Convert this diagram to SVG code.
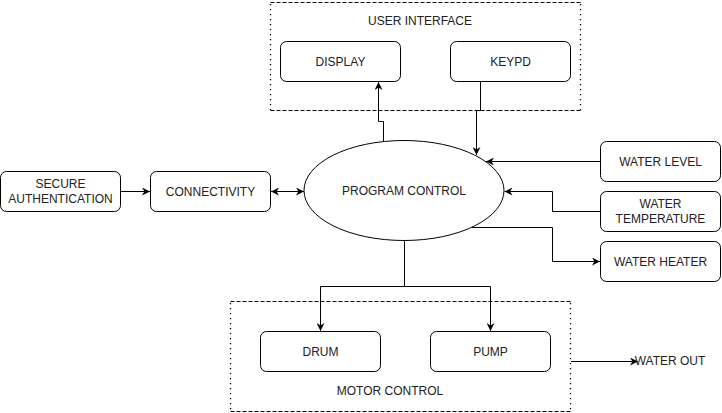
<svg xmlns="http://www.w3.org/2000/svg" width="722" height="413" viewBox="0 0 722 413">
<style>
.node{fill:#fff;stroke:#000;stroke-width:1}
.gh{fill:none;stroke:#000;stroke-width:1;stroke-dasharray:4 2}
.gv{fill:none;stroke:#000;stroke-width:1.3;stroke-dasharray:1.3 3.7}
.t{font-family:"Liberation Sans",Arial,sans-serif;font-size:12px;fill:#222;text-anchor:middle;dominant-baseline:central}
.c{fill:none;stroke:#000;stroke-width:1}
</style>
<defs>
<marker id="a" viewBox="0 0 10 10" refX="10" refY="5" markerWidth="8" markerHeight="8" markerUnits="userSpaceOnUse" orient="auto-start-reverse">
<path d="M0,0 L10,5 L0,10 L3,5 Z" fill="#000"/>
</marker>
</defs>
<rect width="722" height="413" fill="#fff"/>
<g id="user-interface">
<path class="gh" d="M270.5,2.5 H580.5 M270.5,110.5 H580.5"/>
<path class="gv" d="M270.5,4 V110 M580.5,4 V110"/>
<text class="t" x="420" y="21">USER INTERFACE</text>
</g>
<g id="motor-control">
<path class="gh" d="M230.5,301.5 H570.5 M230.5,411.5 H570.5"/>
<path class="gv" d="M230.5,303 V411 M570.5,303 V411"/>
<text class="t" x="390" y="391">MOTOR CONTROL</text>
</g>
<g id="display">
<rect class="node" x="280.5" y="41.5" width="120" height="40" rx="6"/>
<text class="t" x="340.5" y="61.5">DISPLAY</text>
</g>
<g id="keypd">
<rect class="node" x="450.5" y="41.5" width="120" height="40" rx="6"/>
<text class="t" x="510.5" y="61.5">KEYPD</text>
</g>
<g id="secure-authentication">
<rect class="node" x="0.5" y="171.5" width="120" height="40" rx="6"/>
<text class="t" x="60.5" y="183.5">SECURE</text>
<text class="t" x="60.5" y="198.5">AUTHENTICATION</text>
</g>
<g id="connectivity">
<rect class="node" x="150.5" y="171.5" width="120" height="40" rx="6"/>
<text class="t" x="210.5" y="191.5">CONNECTIVITY</text>
</g>
<g id="program-control">
<ellipse class="node" cx="404" cy="190.5" rx="100" ry="50"/>
<text class="t" x="404" y="191">PROGRAM CONTROL</text>
</g>
<g id="water-level">
<rect class="node" x="600.5" y="141.5" width="120" height="40" rx="6"/>
<text class="t" x="660.5" y="161.5">WATER LEVEL</text>
</g>
<g id="water-temperature">
<rect class="node" x="600.5" y="191.5" width="120" height="40" rx="6"/>
<text class="t" x="660.5" y="203.5">WATER</text>
<text class="t" x="660.5" y="218.5">TEMPERATURE</text>
</g>
<g id="water-heater">
<rect class="node" x="600.5" y="241.5" width="120" height="40" rx="6"/>
<text class="t" x="660.5" y="261.5">WATER HEATER</text>
</g>
<g id="drum">
<rect class="node" x="260.5" y="331.5" width="120" height="40" rx="6"/>
<text class="t" x="320.5" y="351.5">DRUM</text>
</g>
<g id="pump">
<rect class="node" x="430.5" y="331.5" width="120" height="40" rx="6"/>
<text class="t" x="490.5" y="351.5">PUMP</text>
</g>
<g id="connectors">
<path class="c" d="M383.5,142 V121.5 H378.5 V82" marker-end="url(#a)"/>
<path class="c" d="M480.5,82 V110.5 H476.5 V155" marker-end="url(#a)"/>
<path class="c" d="M121,191.5 H150" marker-end="url(#a)"/>
<path class="c" d="M271,191.5 H304" marker-start="url(#a)" marker-end="url(#a)"/>
<path class="c" d="M600,161.5 H486" marker-end="url(#a)"/>
<path class="c" d="M600,211.5 H552.5 V191.5 H504.5" marker-end="url(#a)"/>
<path class="c" d="M472,227.5 H552.5 V261.5 H600" marker-end="url(#a)"/>
<path class="c" d="M404.5,241 V286.5 H320.5 V331" marker-end="url(#a)"/>
<path class="c" d="M404.5,286.5 H490.5 V331" marker-end="url(#a)"/>
<path class="c" d="M571,361.5 H638" marker-end="url(#a)"/>
</g>
<g id="water-out">
<text class="t" x="670" y="361">WATER OUT</text>
</g>
</svg>
